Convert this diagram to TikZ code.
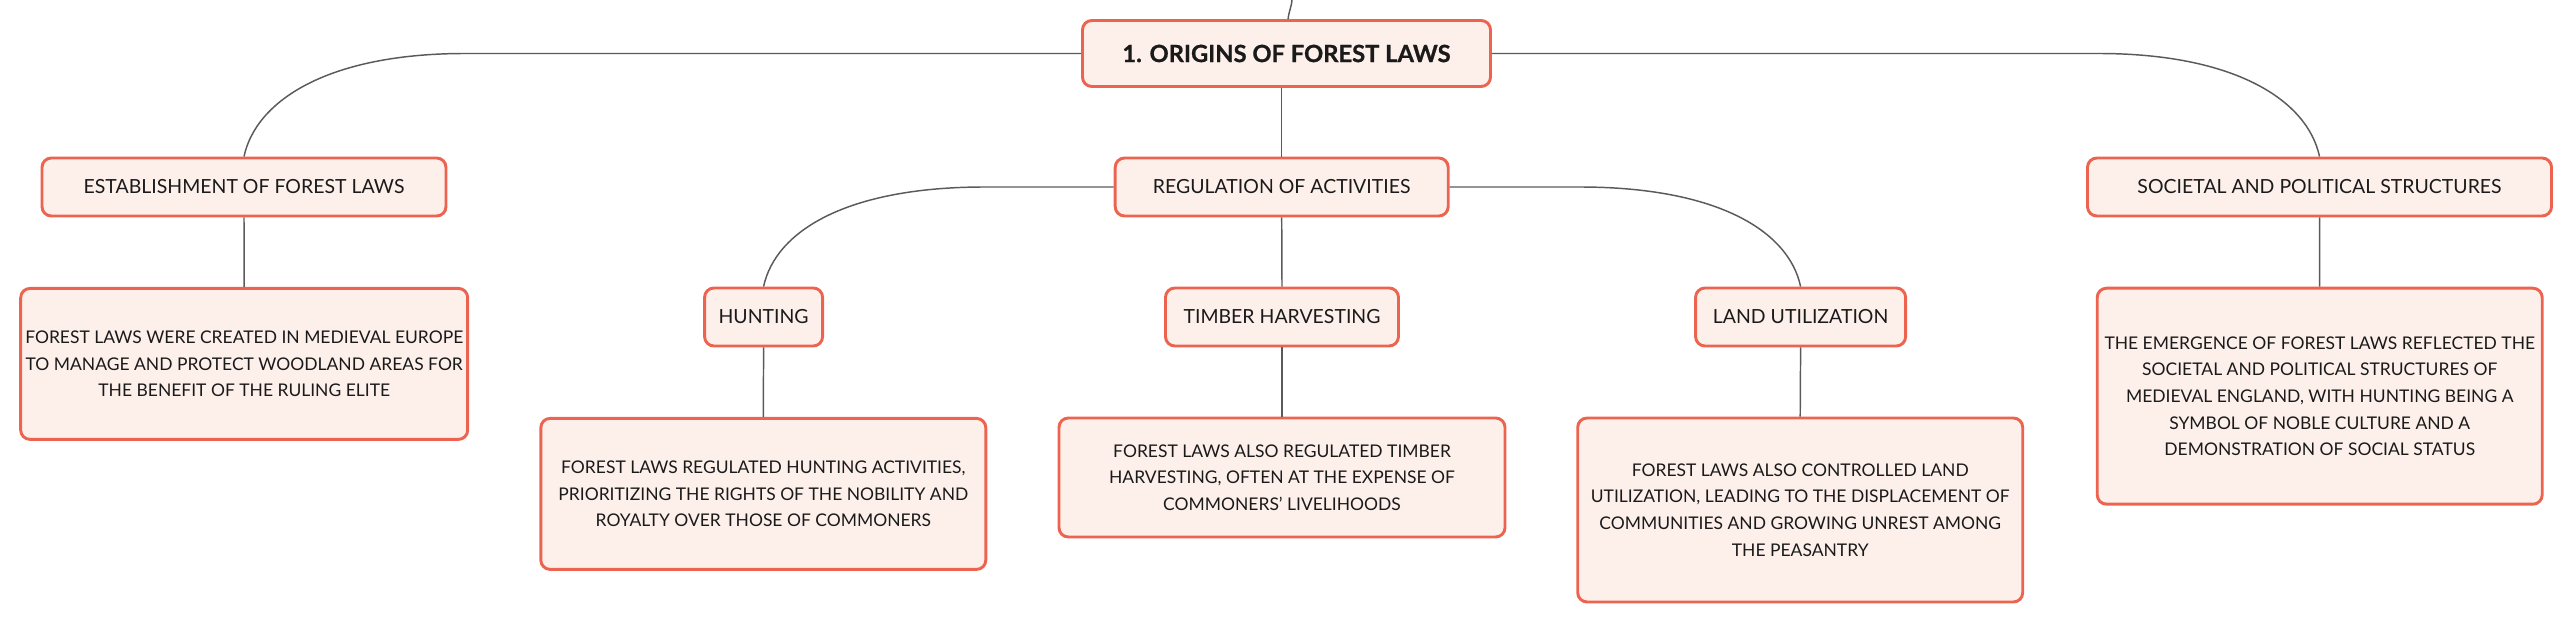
\documentclass[tikz,border=0pt]{standalone}
\usepackage{fontspec}
\setmainfont{Lato}
\newfontfamily\heavyfont{Lato}[BoldFeatures={FakeBold=0.8}]
\usetikzlibrary{arrows.meta,calc}
\definecolor{boxred}{HTML}{EC6450}
\definecolor{boxfill}{HTML}{FDF0EB}
\definecolor{linkgray}{HTML}{5A5A5A}
\definecolor{txt}{HTML}{1A1A1A}
\tikzset{
  box/.style={draw=boxred, fill=boxfill, line width=2.2pt, rounded corners=7pt,
    inner sep=0pt, align=center, text=txt, font=\fontsize{14.6}{20}\selectfont},
  detailbox/.style={box, font=\fontsize{13.1}{20}\selectfont},
  rootbox/.style={box, font=\fontsize{17.8}{22}\selectfont\heavyfont\bfseries},
  link/.style={draw=linkgray, line width=1.1pt},
}
\begin{document}
\begin{tikzpicture}[x=0.75pt,y=-0.75pt]
\useasboundingbox (0,0) rectangle (2574,624);
% nodes
\node[rootbox, minimum width=408*0.75pt, minimum height=66*0.75pt] (root) at (1286.5,53.5) {1. ORIGINS OF FOREST LAWS};
\node[box, minimum width=404*0.75pt, minimum height=58*0.75pt] (est) at (244,187) {ESTABLISHMENT OF FOREST LAWS};
\node[detailbox, minimum width=447*0.75pt, minimum height=151*0.75pt] (estd) at (244.2,363.9) {FOREST LAWS WERE CREATED IN MEDIEVAL EUROPE\\TO MANAGE AND PROTECT WOODLAND AREAS FOR\\THE BENEFIT OF THE RULING ELITE};
\node[box, minimum width=333*0.75pt, minimum height=58*0.75pt] (reg) at (1281.7,187) {REGULATION OF ACTIVITIES};
\node[box, minimum width=118*0.75pt, minimum height=58*0.75pt] (hunt) at (763.6,317) {HUNTING};
\node[detailbox, minimum width=445*0.75pt, minimum height=151*0.75pt] (huntd) at (763.3,493.9) {FOREST LAWS REGULATED HUNTING ACTIVITIES,\\PRIORITIZING THE RIGHTS OF THE NOBILITY AND\\ROYALTY OVER THOSE OF COMMONERS};
\node[box, minimum width=233*0.75pt, minimum height=58*0.75pt] (timb) at (1282,317) {TIMBER HARVESTING};
\node[detailbox, minimum width=446*0.75pt, minimum height=119*0.75pt] (timbd) at (1282,477.5) {FOREST LAWS ALSO REGULATED TIMBER\\HARVESTING, OFTEN AT THE EXPENSE OF\\COMMONERS' LIVELIHOODS};
\node[box, minimum width=210*0.75pt, minimum height=58*0.75pt] (land) at (1800.6,317) {LAND UTILIZATION};
\node[detailbox, minimum width=445*0.75pt, minimum height=184*0.75pt] (landd) at (1800.2,510) {FOREST LAWS ALSO CONTROLLED LAND\\UTILIZATION, LEADING TO THE DISPLACEMENT OF\\COMMUNITIES AND GROWING UNREST AMONG\\THE PEASANTRY};
\node[box, minimum width=464*0.75pt, minimum height=58*0.75pt] (soc) at (2319.5,187) {SOCIETAL AND POLITICAL STRUCTURES};
\node[detailbox, minimum width=445*0.75pt, minimum height=216*0.75pt] (socd) at (2319.7,396.2) {THE EMERGENCE OF FOREST LAWS REFLECTED THE\\SOCIETAL AND POLITICAL STRUCTURES OF\\MEDIEVAL ENGLAND, WITH HUNTING BEING A\\SYMBOL OF NOBLE CULTURE AND A\\DEMONSTRATION OF SOCIAL STATUS};
\coordinate (topend) at (1292,0);
% connectors
\draw[link] ([xshift=1.2pt]root.north) to[out=85,in=-95] (topend);
\draw[link] (root.south -| reg.north) -- (reg.north);
\draw[link] (root.west) -- ([xshift=221*0.75pt]est.north |- root.west)
  .. controls +(-137,0) and +(12,-56) .. (est.north);
\draw[link] (root.east) -- ([xshift=-221*0.75pt]soc.north |- root.east)
  .. controls +(137,0) and +(-12,-56) .. (soc.north);
\draw[link] (reg.west) -- ([xshift=221*0.75pt]hunt.north |- reg.west)
  .. controls +(-137,0) and +(12,-56) .. (hunt.north);
\draw[link] (reg.east) -- ([xshift=-221*0.75pt]land.north |- reg.east)
  .. controls +(137,0) and +(-12,-56) .. (land.north);
\draw[link] (est.south) -- (estd.north);
\draw[link] (reg.south) -- (timb.north);
\draw[link] (hunt.south) -- (huntd.north);
\draw[link] (timb.south) -- (timbd.north);
\draw[link] (land.south) -- (landd.north);
\draw[link] (soc.south) -- (socd.north);
\end{tikzpicture}
\end{document}
